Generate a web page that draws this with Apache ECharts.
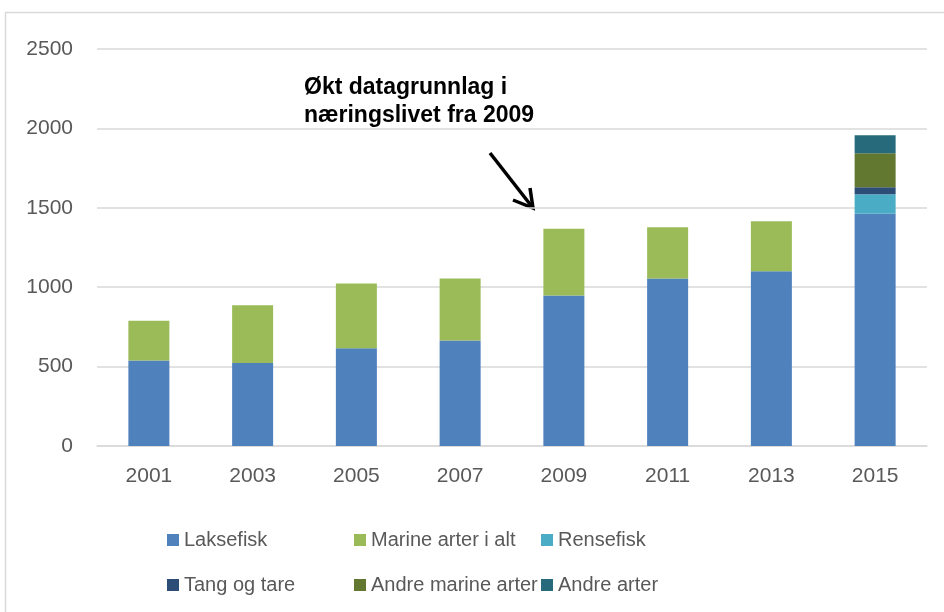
<!DOCTYPE html>
<html>
<head>
<meta charset="utf-8">
<script src="https://cdn.jsdelivr.net/npm/echarts@6/dist/echarts.min.js"></script>
<style>
  html, body { margin: 0; padding: 0; background: #fff; }
  #chart { width: 944px; height: 612px; }
</style>
</head>
<body>
<div id="chart"></div>
<script>
const FONT = "Liberation Sans";
const TEXT = "#595959";
const GRID = "#d9d9d9";

const years = ["2001", "2003", "2005", "2007", "2009", "2011", "2013", "2015"];
const laksefisk = [538, 522, 615, 665, 948, 1055, 1100, 1462];
const marineArter = [250, 365, 408, 390, 420, 322, 315, null];
const rensefisk = [null, null, null, null, null, null, null, 124];
const tangOgTare = [null, null, null, null, null, null, null, 44];
const andreMarine = [null, null, null, null, null, null, null, 214];
const andreArter = [null, null, null, null, null, null, null, 113];

const seriesDefs = [
  { name: "Laksefisk", data: laksefisk, color: "#4f81bd" },
  { name: "Marine arter i alt", data: marineArter, color: "#9bbb59" },
  { name: "Rensefisk", data: rensefisk, color: "#4bacc6" },
  { name: "Tang og tare", data: tangOgTare, color: "#2c4d76" },
  { name: "Andre marine arter", data: andreMarine, color: "#627830" },
  { name: "Andre arter", data: andreArter, color: "#276a7c" },
];

const chart = echarts.init(document.getElementById("chart"), null, { renderer: "canvas" });

const legendBase = {
  orient: "horizontal",
  left: 167,
  itemWidth: 12,
  itemHeight: 12,
  itemGap: 0,
  padding: 0,
  icon: "rect",
  selectedMode: false,
  textStyle: { color: TEXT, fontFamily: FONT, fontSize: 20, width: 170, lineHeight: 24 },
};

chart.setOption({
  animation: false,
  grid: { left: 97, right: 17, top: 49, bottom: 166 },
  legend: [
    Object.assign({}, legendBase, { top: 528, data: seriesDefs.slice(0, 3).map((s) => s.name) }),
    Object.assign({}, legendBase, { top: 573, data: seriesDefs.slice(3).map((s) => s.name) }),
  ],
  xAxis: {
    type: "category",
    data: years,
    axisLine: { lineStyle: { color: GRID, width: 1.5 } },
    axisTick: { show: false },
    axisLabel: { color: TEXT, fontFamily: FONT, fontSize: 21, margin: 20 },
  },
  yAxis: {
    type: "value",
    min: 0,
    max: 2500,
    interval: 500,
    axisLine: { show: false },
    axisTick: { show: false },
    axisLabel: { color: TEXT, fontFamily: FONT, fontSize: 21, margin: 24, formatter: (v) => String(v) },
    splitLine: { lineStyle: { color: GRID, width: 1.5 } },
  },
  series: seriesDefs.map((s) => ({
    name: s.name,
    type: "bar",
    stack: "total",
    barWidth: 41,
    data: s.data.map((v) => (v == null ? "-" : v)),
    itemStyle: { color: s.color },
  })),
  graphic: [
    {
      type: "rect",
      silent: true,
      shape: { x: 5.5, y: 12.5, width: 1000, height: 1000 },
      style: { fill: "none", stroke: GRID, lineWidth: 1.5 },
    },
    {
      type: "text",
      left: 304,
      top: 74,
      style: {
        text: "Økt datagrunnlag i\nnæringslivet fra 2009",
        font: "bold 23px " + FONT,
        fill: "#000",
        lineHeight: 28,
      },
    },
    {
      type: "line",
      silent: true,
      shape: { x1: 490, y1: 153, x2: 533, y2: 208 },
      style: { stroke: "#000", lineWidth: 3.5 },
    },
    {
      type: "polyline",
      silent: true,
      shape: { points: [[513, 200], [533, 208], [530, 188]] },
      style: { stroke: "#000", lineWidth: 3.5, fill: "none" },
    },
  ],
});
</script>
</body>
</html>
